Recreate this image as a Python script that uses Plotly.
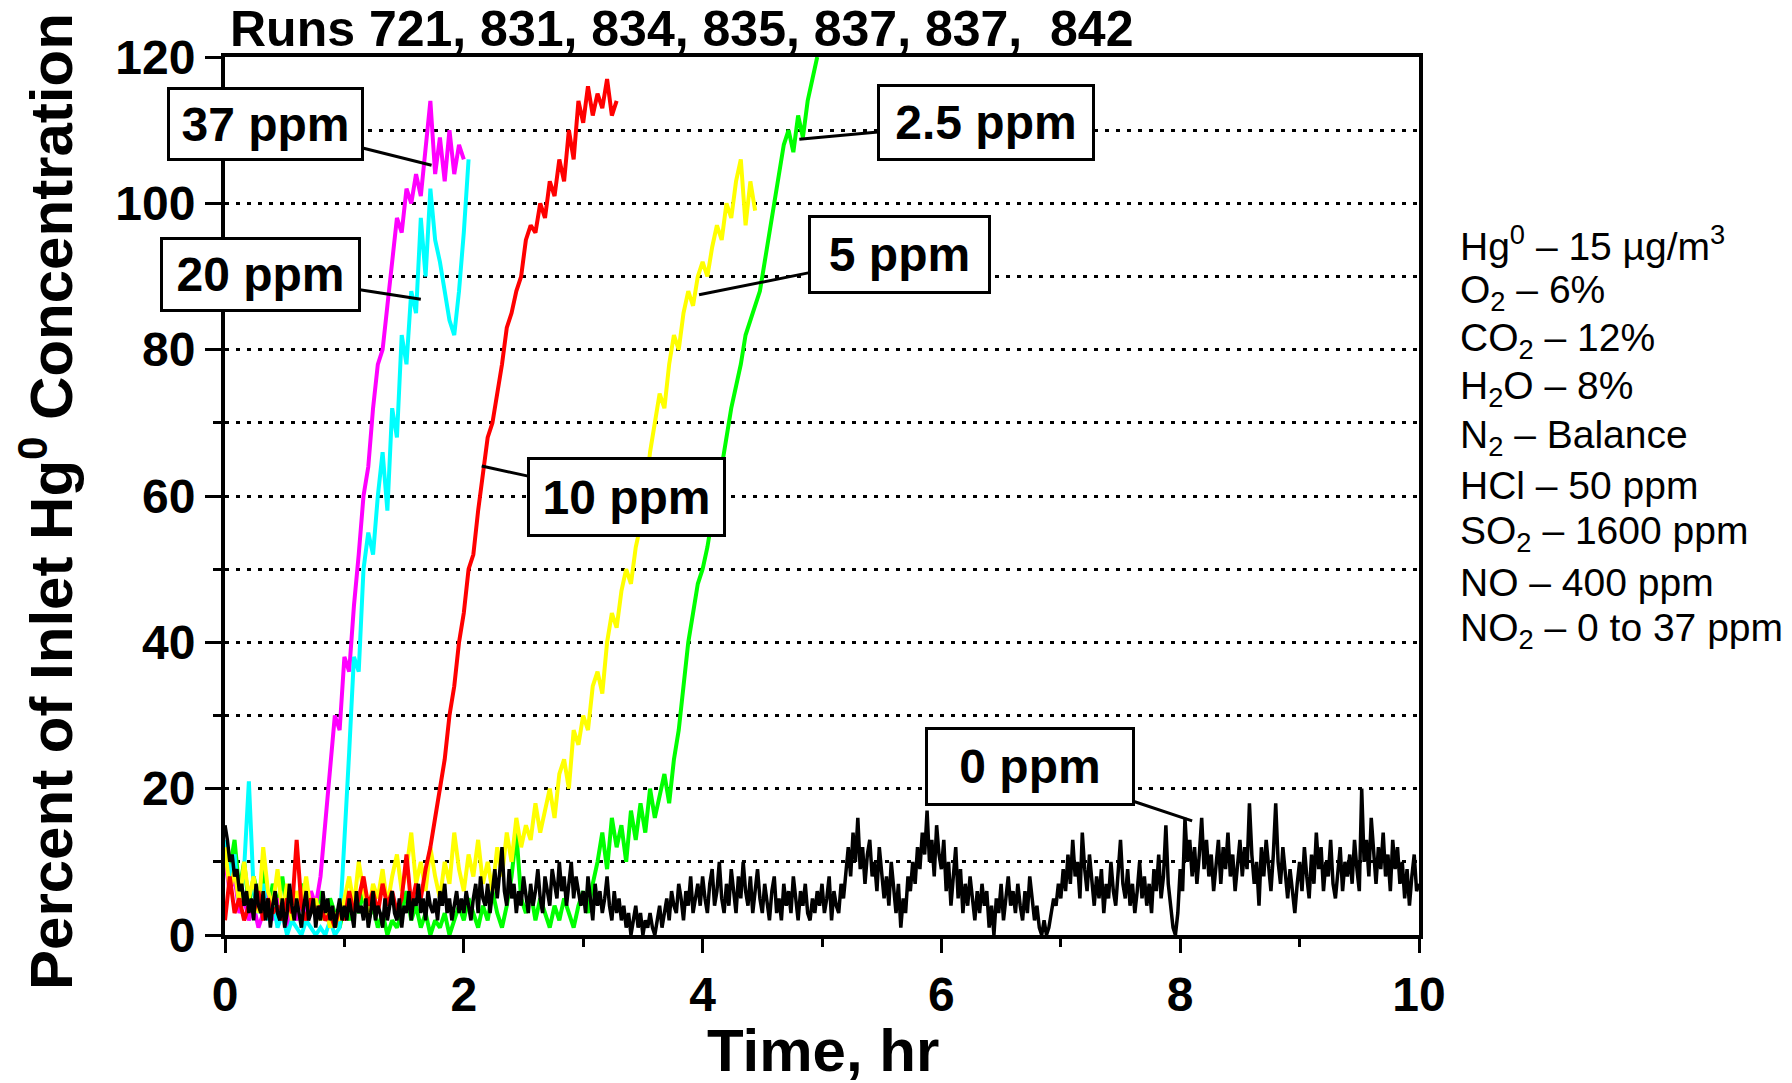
import numpy as np
import plotly.graph_objects as go

STEP = 0.04    # sampling interval of the NO2-dosed runs, hr
STEP_K = 0.02  # sampling interval of the 0 ppm run, hr

# NO2 = 37 ppm (magenta)
m37 = [10, 6, 8, 3, 5, 2, 4, 1, 3, 6, 2, 5, 3, 1, 4, 2, 5, 3, 6, 4,
       8, 15, 22, 30, 28, 38, 36, 45, 52, 60, 64, 72, 78, 80, 86, 92, 98, 96, 102, 100,
       104, 101, 108, 114, 104, 109, 103, 110, 104, 108, 106]
# NO2 = 20 ppm (cyan)
c20 = [13, 8, 11, 4, 9, 21, 6, 3, 7, 2, 5, 1, 3, 0, 2, 1, 0, 2, 1, 0,
       1, 0, 2, 0, 1, 12, 25, 38, 36, 50, 55, 52, 60, 66, 58, 72, 68, 82, 78, 88,
       85, 98, 90, 102, 95, 92, 88, 84, 82, 88, 96, 106]
# NO2 = 10 ppm (red)
r10 = [2, 8, 3, 5, 2, 4, 3, 6, 2, 5, 3, 4, 2, 5, 3, 13, 4, 2, 5, 3,
       4, 2, 3, 1, 4, 2, 6, 3, 5, 8, 4, 6, 3, 7, 4, 6, 3, 5, 11, 4,
       7, 5, 9, 12, 16, 20, 24, 30, 34, 40, 44, 50, 52, 58, 63, 68, 70, 74, 78, 83,
       85, 88, 90, 95, 97, 96, 100, 98, 103, 101, 106, 103, 110, 106, 114, 111, 116, 112, 115, 113,
       117, 112, 114]
# NO2 = 5 ppm (yellow)
y5 = [12, 6, 9, 4, 10, 5, 8, 3, 12, 6, 4, 9, 3, 7, 2, 6, 4, 8, 3, 5,
      2, 4, 1, 3, 2, 5, 8, 4, 10, 6, 3, 7, 5, 9, 4, 8, 11, 6, 9, 14,
      7, 10, 6, 12, 8, 5, 10, 7, 14, 9, 6, 11, 8, 13, 7, 10, 6, 12, 8, 14,
      10, 16, 12, 15, 13, 18, 14, 17, 20, 16, 22, 24, 20, 28, 26, 30, 28, 34, 36, 33,
      40, 44, 42, 47, 50, 48, 53, 56, 60, 66, 70, 74, 72, 78, 82, 80, 85, 88, 86, 90,
      92, 90, 94, 97, 95, 100, 98, 103, 106, 97, 103, 99]
# NO2 = 2.5 ppm (green)
g25 = [12, 9, 13, 6, 10, 4, 8, 5, 9, 3, 7, 4, 8, 3, 6, 2, 7, 4, 5, 3,
       6, 2, 5, 3, 1, 4, 2, 5, 3, 6, 2, 4, 1, 3, 0, 2, 1, 3, 6, 2,
       4, 1, 3, 0, 2, 1, 3, 0, 2, 4, 2, 5, 3, 1, 4, 2, 6, 3, 1, 4,
       8, 14, 5, 3, 6, 2, 5, 3, 1, 4, 2, 5, 3, 1, 4, 6, 3, 7, 10, 14,
       9, 16, 12, 15, 10, 17, 13, 18, 14, 20, 16, 19, 22, 18, 24, 28, 34, 40, 44, 48,
       50, 53, 57, 60, 64, 68, 72, 75, 78, 82, 84, 86, 88, 92, 96, 100, 104, 108, 110, 107,
       112, 109, 114, 117, 120]
# NO2 = 0 ppm (black), one row per hour
k0 = [15, 13, 10, 11, 8, 9, 6, 7, 4, 6, 3, 5, 2, 7, 4, 3, 6, 2, 5, 1, 4, 6, 3, 2, 5, 1, 3, 7, 4, 2, 5, 3, 1, 4, 6, 2, 3, 5, 1, 4, 2, 6, 3, 5, 2, 4, 1, 3, 5, 2,
      4, 2, 5, 3, 1, 6, 3, 4, 2, 5, 1, 3, 6, 2, 4, 3, 1, 5, 2, 4, 6, 3, 2, 5, 1, 4, 3, 6, 2, 5, 4, 7, 3, 5, 2, 6, 4, 3, 5, 2, 6, 4, 7, 3, 5, 2, 4, 6, 3, 5,
      3, 6, 4, 2, 5, 7, 3, 8, 5, 4, 7, 3, 6, 9, 5, 8, 12, 6, 4, 9, 5, 7, 3, 6, 4, 8, 5, 3, 7, 4, 6, 9, 5, 3, 8, 6, 4, 9, 7, 5, 10, 6, 8, 4, 7, 10, 5, 8, 6, 4,
      6, 3, 8, 5, 2, 7, 4, 6, 3, 5, 8, 4, 2, 6, 3, 5, 2, 4, 1, 3, 0, 2, 4, 1, 3, 0, 2, 1, 3, 1, 0, 2, 4, 1, 3, 5, 2, 6, 4, 3, 7, 5, 2, 6, 4, 8, 3, 5, 7, 4,
      8, 5, 3, 7, 9, 4, 6, 10, 5, 3, 7, 4, 9, 6, 3, 8, 5, 10, 6, 4, 8, 3, 6, 9, 5, 3, 7, 4, 2, 6, 8, 3, 5, 2, 7, 4, 6, 3, 8, 5, 2, 6, 4, 7, 3, 2, 5, 3, 6, 4,
      7, 3, 5, 8, 2, 6, 4, 3, 7, 5, 9, 12, 8, 14, 10, 16, 9, 12, 7, 11, 13, 8, 10, 6, 12, 9, 5, 8, 4, 10, 6, 3, 7, 1, 5, 3, 8, 6, 10, 7, 12, 9, 14, 11, 17, 10, 13, 8, 15, 11,
      9, 13, 6, 10, 4, 8, 12, 5, 9, 3, 7, 4, 8, 5, 2, 6, 3, 7, 4, 6, 1, 4, 0, 5, 3, 7, 2, 5, 8, 4, 6, 3, 7, 4, 2, 6, 3, 8, 5, 2, 4, 1, 0, 2, 0, 1, 3, 5, 4, 7,
      5, 9, 6, 11, 7, 13, 8, 10, 5, 14, 9, 6, 11, 7, 4, 8, 5, 9, 3, 7, 5, 10, 6, 4, 8, 13, 7, 5, 9, 4, 7, 3, 6, 10, 5, 8, 4, 7, 3, 9, 6, 11, 5, 8, 15, 7, 4, 1, 0, 3,
      9, 6, 16, 10, 13, 8, 12, 7, 11, 16, 9, 13, 8, 11, 6, 10, 13, 7, 12, 9, 14, 8, 11, 6, 10, 13, 8, 12, 9, 18, 11, 7, 10, 4, 12, 8, 13, 9, 6, 11, 18, 10, 7, 12, 8, 5, 9, 6, 3, 7,
      10, 6, 12, 8, 5, 11, 7, 14, 9, 12, 6, 10, 8, 13, 7, 5, 9, 12, 6, 10, 8, 11, 7, 13, 9, 6, 20, 10, 13, 8, 16, 11, 7, 12, 9, 14, 8, 11, 6, 13, 9, 12, 7, 10, 5, 9, 4, 8, 11, 6,
      7]

series = [
    ("2.5 ppm", g25, "#00FF00", STEP),
    ("37 ppm", m37, "#FF00FF", STEP),
    ("20 ppm", c20, "#00FFFF", STEP),
    ("5 ppm", y5, "#FFFF00", STEP),
    ("10 ppm", r10, "#FF0000", STEP),
    ("0 ppm", k0, "#000000", STEP_K),
]

title_text = "Runs 721, 831, 834, 835, 837, 837,&nbsp; 842"
x_title = "Time, hr"
y_title = "Percent of Inlet Hg<sup>0</sup> Concentration"
conditions = [
    "Hg<sup>0</sup> – 15 µg/m<sup>3</sup>",
    "O<sub>2</sub> – 6%",
    "CO<sub>2</sub> – 12%",
    "H<sub>2</sub>O – 8%",
    "N<sub>2</sub> – Balance",
    "HCl – 50 ppm",
    "SO<sub>2</sub> – 1600 ppm",
    "NO – 400 ppm",
    "NO<sub>2</sub> – 0 to 37 ppm",
]

# label: (arrow tip t, tip y, box centre t, box centre y, box w, box h)
labels = {
    "37 ppm": (1.73, 105.2, 0.34, 110.9, 195, 72),
    "20 ppm": (1.64, 86.9, 0.30, 90.3, 199, 73),
    "10 ppm": (2.15, 64.1, 3.36, 59.8, 197, 78),
    "5 ppm": (3.97, 87.5, 5.65, 93.0, 181, 77),
    "2.5 ppm": (4.81, 108.75, 6.37, 111.1, 216, 75),
    "0 ppm": (8.10, 15.6, 6.74, 23.0, 208, 77),
}

FONT = "Liberation Sans, Arial, sans-serif"

fig = go.Figure()
for name, vals, col, step in series:
    t = np.round(np.arange(len(vals)) * step, 3)
    fig.add_trace(go.Scatter(x=t, y=vals, mode="lines", name=name,
                             line=dict(color=col, width=4 if col != "#000000" else 3.5),
                             showlegend=False))

OFF = 8  # page body margin
W, H = 1792 - OFF, 1083 - OFF
L, R, T, B = 225 - OFF, 373, 57 - OFF, 148

fig.update_layout(
    width=W, height=H,
    margin=dict(l=L, r=R, t=T, b=B, pad=0),
    plot_bgcolor="white", paper_bgcolor="white",
    font=dict(family=FONT, color="black"),
    showlegend=False,
)
fig.update_xaxes(
    range=[0, 10], dtick=2, tick0=0, showgrid=False, zeroline=False,
    showline=True, linewidth=4, linecolor="black", mirror=True,
    ticks="outside", ticklen=14, tickwidth=3, tickcolor="black",
    tickfont=dict(size=48, family=FONT, weight="bold"),
    minor=dict(dtick=1, ticks="outside", ticklen=8, tickwidth=3, tickcolor="black", showgrid=False),
)
fig.update_yaxes(
    range=[0, 120], dtick=20, tick0=0, zeroline=False,
    showgrid=True, gridcolor="black", gridwidth=3, griddash="4px,7px",
    showline=True, linewidth=4, linecolor="black", mirror=True,
    ticks="outside", ticklen=16, tickwidth=3, tickcolor="black",
    tickfont=dict(size=48, family=FONT, weight="bold"),
    minor=dict(dtick=10, ticks="outside", ticklen=8, tickwidth=3, tickcolor="black",
               showgrid=True, gridcolor="black", gridwidth=3, griddash="4px,7px"),
)

pw, ph = W - L - R, H - T - B

def px_x(p):
    return (p - OFF - L) / pw

def px_y(p):
    return (H - B - (p - OFF)) / ph

ann = []
ann.append(dict(text=title_text, xref="paper", yref="paper", x=px_x(228), y=px_y(29),
                xanchor="left", yanchor="middle", showarrow=False,
                font=dict(size=50, family=FONT, weight="bold")))
ann.append(dict(text=x_title, xref="paper", yref="paper", x=px_x(823), y=px_y(1050),
                xanchor="center", yanchor="middle", showarrow=False,
                font=dict(size=60, family=FONT, weight="bold")))
ann.append(dict(text=y_title, xref="paper", yref="paper", x=px_x(47), y=px_y(502),
                xanchor="center", yanchor="middle", showarrow=False, textangle=-90,
                font=dict(size=60, family=FONT, weight="bold")))
for i, line in enumerate(conditions):
    ann.append(dict(text=line, xref="paper", yref="paper", x=px_x(1458), y=px_y(244 + 48.3 * i),
                    xanchor="left", yanchor="middle", showarrow=False,
                    font=dict(size=39, family=FONT)))
for lab, (tx, ty, bx, by, bw, bh) in labels.items():
    ann.append(dict(text=lab, x=tx, y=ty, xref="x", yref="y",
                    ax=bx, ay=by, axref="x", ayref="y",
                    showarrow=True, arrowhead=0, arrowwidth=3, arrowcolor="black",
                    bordercolor="black", borderwidth=3, bgcolor="white",
                    width=bw - 6, height=bh - 6, align="center", valign="middle",
                    font=dict(size=48, family=FONT, weight="bold")))
fig.update_layout(annotations=ann)

fig.write_html("out.html")
